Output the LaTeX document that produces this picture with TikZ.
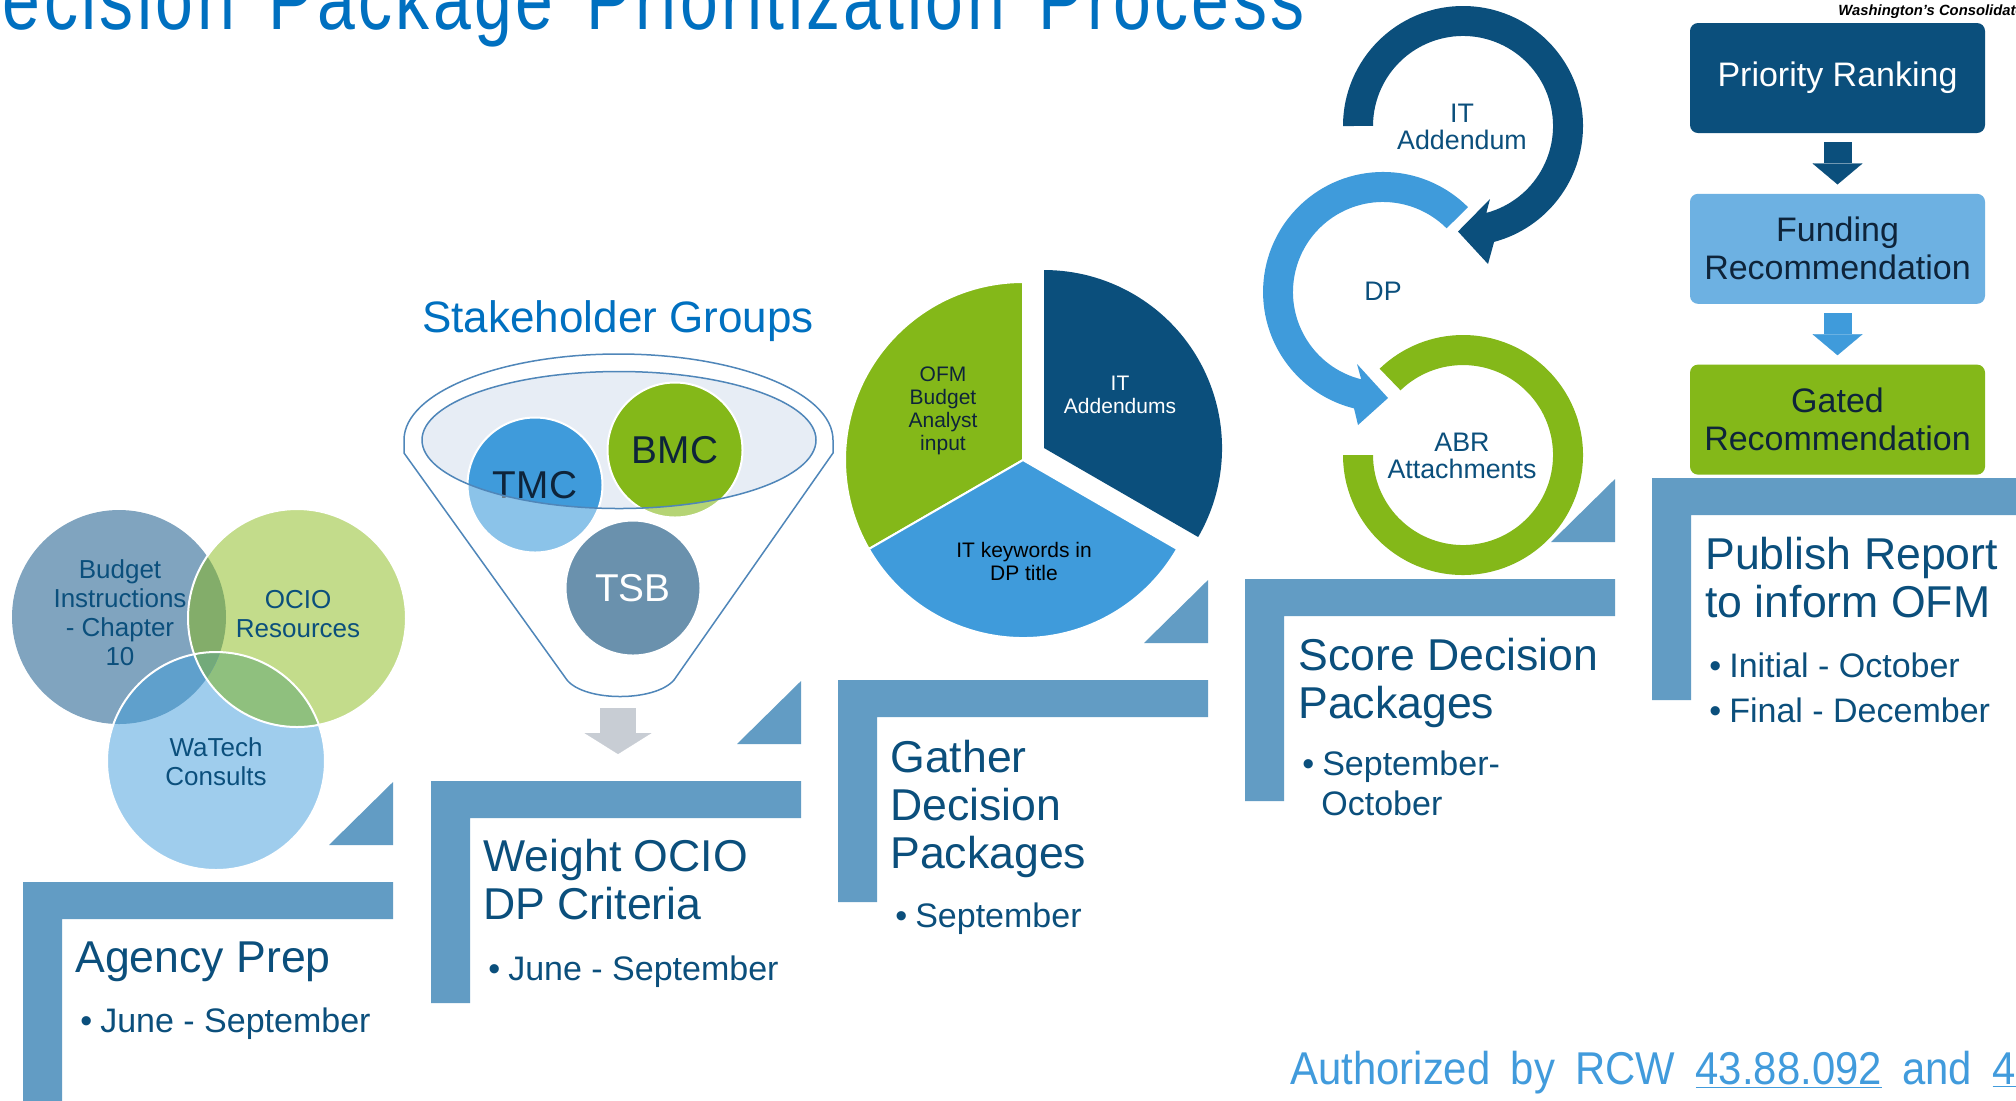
\documentclass[tikz,border=0pt]{standalone}
\usepackage{fontspec}
\setmainfont{Liberation Sans}
\newfontfamily\titlefont[FakeStretch=0.8, LetterSpace=4, WordSpace=1.5]{Liberation Sans}
\newfontfamily\footfont[FakeStretch=0.91, WordSpace=1.75]{Liberation Sans}
\usepackage{tikz}
\usetikzlibrary{arrows.meta}
\usetikzlibrary{positioning}
\definecolor{navy}{RGB}{11,79,124}
\definecolor{skyblue}{RGB}{63,155,219}
\definecolor{leaf}{RGB}{132,184,25}
\definecolor{steel}{RGB}{98,156,196}
\definecolor{titleblue}{RGB}{0,112,192}
\definecolor{footblue}{RGB}{65,155,220}
\definecolor{ink}{RGB}{14,36,58}
\definecolor{budgetgray}{RGB}{128,164,191}
\definecolor{ociogreen}{RGB}{195,220,139}
\definecolor{watechblue}{RGB}{159,205,237}
\definecolor{bo}{RGB}{131,173,106}
\definecolor{bw}{RGB}{95,160,204}
\definecolor{ow}{RGB}{143,192,126}
\definecolor{bow}{RGB}{115,170,122}
\definecolor{fundblue}{RGB}{109,177,226}
\definecolor{tsbgray}{RGB}{106,145,173}
\definecolor{funnelline}{RGB}{79,134,185}
\definecolor{rimfill}{RGB}{231,237,245}
\definecolor{arrowgray}{RGB}{200,205,212}
\tikzset{>=latex, inner sep=0pt}
\tikzstyle{stepbar} = [fill=steel]
\tikzstyle{steptitle} = [anchor=base west, align=left, text=navy, font=\fontsize{22.3}{24}\selectfont]
\tikzstyle{stepdate} = [anchor=base west, align=left, text=navy, font=\fontsize{17}{20}\selectfont]
\tikzstyle{venn} = [anchor=base, align=center, text=navy, font=\fontsize{13}{14.5}\selectfont]
\tikzstyle{bubble} = [circle, draw=white, line width=1pt, minimum size=67.5pt, font=\fontsize{19.4}{19.4}\selectfont]
\tikzstyle{pietext} = [anchor=base, align=center, font=\fontsize{10.5}{11.5}\selectfont]
\tikzstyle{looptext} = [anchor=base, align=center, text=navy, font=\fontsize{13.4}{13.5}\selectfont]
\tikzstyle{outcome} = [rectangle, rounded corners=4pt, minimum width=147.5pt, minimum height=55pt, align=center, font=\fontsize{17}{19}\selectfont]
\tikzstyle{blockarrow} = [line width=14pt, shorten <=4.5pt, shorten >=4.5pt, -{Triangle[length=10.5pt, width=25pt, line width=0.1pt]}]
\tikzstyle{funnel} = [draw=funnelline, line width=0.75pt]

\begin{document}
\begin{tikzpicture}[x=0.5pt, y=-0.5pt]
    \useasboundingbox (0,0) rectangle (2016,1100);
    \fill[white] (0,0) rectangle (2016,1100);

    \node [anchor=base west, text=titleblue, font=\titlefont\fontsize{42.5}{42.5}\selectfont] (title) at (-50,29) {Decision Package Prioritization Process};
    \node [anchor=base west, font=\bfseries\itshape\fontsize{7.4}{7.4}\selectfont] (state) at (1838,15) {Washington's Consolidate};

    % step brackets
    \fill [stepbar] (23,882) -- ++(370,0) -- ++(0,37) -- ++(-331,0) -- ++(0,185) -- ++(-39,0) -- cycle;
    \fill [stepbar] (329,845) -- ++(64,0) -- ++(0,-63) -- cycle;
    \fill [stepbar] (431,781) -- ++(370,0) -- ++(0,37) -- ++(-331,0) -- ++(0,185) -- ++(-39,0) -- cycle;
    \fill [stepbar] (737,744) -- ++(64,0) -- ++(0,-63) -- cycle;
    \fill [stepbar] (838,680) -- ++(370,0) -- ++(0,37) -- ++(-331,0) -- ++(0,185) -- ++(-39,0) -- cycle;
    \fill [stepbar] (1144,643) -- ++(64,0) -- ++(0,-63) -- cycle;
    \fill [stepbar] (1245,579) -- ++(370,0) -- ++(0,37) -- ++(-331,0) -- ++(0,185) -- ++(-39,0) -- cycle;
    \fill [stepbar] (1551,542) -- ++(64,0) -- ++(0,-63) -- cycle;
    \fill [stepbar] (1652,478) -- ++(370,0) -- ++(0,37) -- ++(-331,0) -- ++(0,185) -- ++(-39,0) -- cycle;

    \node [steptitle] (prep) at (75,972) {Agency Prep};
    \node [stepdate] (prepdate) at (80,1032) {\textbullet\hspace*{4pt}June - September};
    \node [steptitle] (weight) at (483,919) {Weight OCIO\\DP Criteria};
    \node [stepdate] (weightdate) at (488,980) {\textbullet\hspace*{4pt}June - September};
    \node [steptitle] (gather) at (890,868) {Gather\\Decision\\Packages};
    \node [stepdate] (gatherdate) at (895,927) {\textbullet\hspace*{4pt}September};
    \node [steptitle] (score) at (1298,718) {Score Decision\\Packages};
    \node [stepdate] (scoredate) at (1302,815) {\textbullet\hspace*{4pt}September-\\\hspace*{9.5pt}October};
    \node [steptitle] (publish) at (1705,617) {Publish Report\\to inform OFM};
    \node [stepdate] (publishdate) at (1709,722) {\textbullet\hspace*{4pt}Initial - October\\[2.5pt]\textbullet\hspace*{4pt}Final - December};

    % venn
    \coordinate (budget) at (119,617);
    \coordinate (ocio) at (297,618);
    \coordinate (watech) at (216,761);
    \fill [budgetgray] (budget) circle [radius=107];
    \fill [ociogreen] (ocio) circle [radius=109];
    \fill [watechblue] (watech) circle [radius=109];
    \begin{scope}
        \clip (ocio) circle [radius=109];
        \fill [ow] (watech) circle [radius=109];
    \end{scope}
    \begin{scope}
        \clip (budget) circle [radius=107];
        \fill [bo] (ocio) circle [radius=109];
        \fill [bw] (watech) circle [radius=109];
        \clip (ocio) circle [radius=109];
        \fill [bow] (watech) circle [radius=109];
    \end{scope}
    \draw [white, line width=1pt] (ocio) circle [radius=109];
    \draw [white, line width=1pt] (watech) circle [radius=109];
    \node [venn] (budgettext) at (120,665) {Budget\\Instructions\\- Chapter\\10};
    \node [venn] (ociotext) at (298,637) {OCIO\\Resources};
    \node [venn] (watechtext) at (216,785) {WaTech\\Consults};

    % funnel
    \node [anchor=base west, text=titleblue, font=\fontsize{22}{22}\selectfont] (groups) at (422,332) {Stakeholder Groups};
    \draw [funnel] (404,440) -- (404,453) -- (567,680) .. controls (585,702) and (655,702) .. (674,680) -- (833,453) -- (833,440) arc [start angle=0, end angle=-180, x radius=214.5, y radius=86] -- cycle;
    \fill [rimfill] (619,440) ellipse [x radius=197, y radius=68.5];
    \node [bubble, fill=skyblue, text=ink] (tmc) at (535,485) {TMC};
    \node [bubble, fill=leaf, text=ink] (bmc) at (675,450) {BMC};
    \node [bubble, fill=tsbgray, text=white] (tsb) at (633,588) {TSB};
    \begin{scope}
        \clip (tmc.center) circle [radius=68] (bmc.center) circle [radius=68];
        \fill [white, opacity=0.4, even odd rule] (619,440) ellipse [x radius=197, y radius=68.5] (400,350) rectangle (850,600);
    \end{scope}
    \draw [funnel] (619,440) ellipse [x radius=197, y radius=68.5];
    \coordinate (funnelend) at (618,697);
    \coordinate (weighttop) at (618,781);
    \draw [arrowgray, line width=18pt, shorten <=5.5pt, shorten >=13.5pt, -{Triangle[length=10.5pt, width=33.5pt, line width=0.1pt]}] (funnelend) -- (weighttop);

    % pie
    \filldraw [fill=leaf, draw=white, line width=1pt] (1023,460) -- ++(-90:178) arc [start angle=-90, end angle=-210, radius=178] -- cycle;
    \filldraw [fill=skyblue, draw=white, line width=1pt] (1023,460) -- ++(-210:178) arc [start angle=-210, end angle=-330, radius=178] -- cycle;
    \fill [navy] (1044,448) -- ++(-330:178) arc [start angle=-330, end angle=-450, radius=178] -- cycle;
    \node [pietext, text=ink] (ofm) at (943,450) {OFM\\Budget\\Analyst\\input};
    \node [pietext, text=white] (addendums) at (1120,413) {IT\\Addendums};
    \node [pietext, text=black] (keywords) at (1024,580) {IT keywords in\\DP title};

    % loop of arrows
    \fill [leaf] (1343,455) arc [start angle=-180, end angle=-494, radius=120] -- (1400.5,390.3) arc [start angle=-494, end angle=-180, radius=90] -- cycle;
    \fill [skyblue] (1467.9,207.1) arc [start angle=-45, end angle=-256, radius=120] -- (1358,425) -- (1388,398) -- (1357,364) -- (1361.2,379.3) arc [start angle=-256, end angle=-45, radius=90] -- cycle;
    \fill [navy] (1343,126) arc [start angle=-180, end angle=75, radius=120] -- (1488,264) -- (1458,231.5) -- (1490,199) -- (1486.3,212.9) arc [start angle=75, end angle=-180, radius=90] -- cycle;
    \node [looptext] (itaddendum) at (1462,149) {IT\\Addendum};
    \node [looptext] (dp) at (1383,300) {DP};
    \node [looptext] (abr) at (1462,478) {ABR\\Attachments};

    % outcomes
    \node [outcome, fill=navy, text=white] (rank) at (1837.5,78) {Priority Ranking};
    \node [outcome, fill=fundblue, text=ink, below=30pt of rank] (fund) {Funding\\Recommendation};
    \node [outcome, fill=leaf, text=ink, below=30pt of fund] (gated) {Gated\\Recommendation};
    \draw [blockarrow, navy] (rank) -- (fund);
    \draw [blockarrow, skyblue] (fund) -- (gated);

    \node [anchor=base west, text=footblue, font=\footfont\fontsize{23}{23}\selectfont] (rcw) at (1290,1084) {Authorized by RCW \underline{43.88.092} and \underline{4}};
\end{tikzpicture}
\end{document}
